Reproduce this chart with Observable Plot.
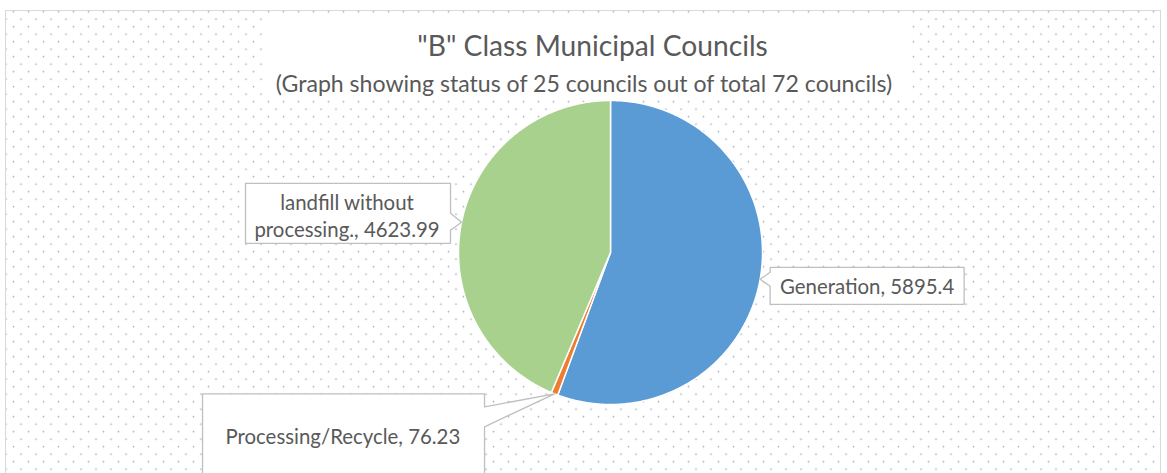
<!DOCTYPE html>
<html>
<head>
<meta charset="utf-8">
<script src="https://cdn.jsdelivr.net/npm/d3@7"></script>
<script src="https://cdn.jsdelivr.net/npm/@observablehq/plot@0.6"></script>
<style>
  html, body { margin: 0; padding: 0; background: #fff; }
  #page { position: relative; width: 1167px; height: 473px; overflow: hidden; font-family: Lato, "Open Sans", sans-serif; }
  #frame {
    position: absolute; left: 5px; top: 10px; width: 1156px; height: 480px;
    border: 1px solid #d9d9d9; box-sizing: border-box;
    background-image:
      radial-gradient(circle, #a9aec6 0, #a9aec6 0.6px, rgba(255,255,255,0) 1.2px),
      radial-gradient(circle, #a9aec6 0, #a9aec6 0.6px, rgba(255,255,255,0) 1.2px);
    background-size: 15px 15px, 15px 15px;
    background-position: 0px -6.8px, 7.5px 0.7px;
  }
  #titlebox { position: absolute; left: 265px; top: 17px; width: 645px; height: 82px; background: #fff; }
  .t { position: absolute; white-space: nowrap; color: #595959; line-height: 1; text-align: center; }
  #chart { position: absolute; left: 0; top: 0; }
</style>
</head>
<body>
<div id="page">
  <div id="frame"></div>
  <div id="titlebox"></div>
  <div class="t" id="title" style="font-size:28.2px; left:292.5px; width:600px; top:31px;">"B" Class Municipal Councils</div>
  <div class="t" id="subtitle" style="font-size:23.1px; left:234px; width:700px; top:71.5px;">(Graph showing status of 25 councils out of total 72 councils)</div>
  <div id="chart"></div>
</div>
<script>
// ---- data ----
const categories = ["Generation", "Processing/Recycle", "landfill without processing."];
const values = [5895.4, 76.23, 4623.99];
const labelTexts = ["Generation, 5895.4", "Processing/Recycle, 76.23", "landfill without\nprocessing., 4623.99"];
const colors = ["#5b9bd5", "#ed7d31", "#a9d18e"];

// ---- layout (pixels) ----
const W = 1167, H = 473;
const CX = 610, CY = 252, R = 152;
// callout shapes as pixel offsets from the pointer tip (which sits on the slice mid-angle at the rim)
const callouts = [
  { shape: [[10,-12],[204,-12],[204,25],[10,25],[10,7],[0,0],[10,-7]], text: [107, 6.5] },
  { shape: [[-352,0],[-70,0],[-70,13],[0,0],[-70,33],[-70,85],[-352,85]], text: [-211.7, 42] },
  { shape: [[-216,-39],[-11,-39],[-11,-9],[0,0],[-11,8],[-11,21],[-216,21]], text: [-114.5, -7.5] }
];

const table = categories.map((c, i) => ({ name: c, value: values[i], label: labelTexts[i] }));
const arcs = d3.pie().sort(null).value(d => d.value)(table);

// slice polygons in radius units
const slicePts = [];
arcs.forEach(a => {
  const name = a.data.name;
  slicePts.push({ name, x: 0, y: 0 });
  const n = Math.max(2, Math.ceil((a.endAngle - a.startAngle) / (Math.PI / 360)));
  for (let k = 0; k <= n; k++) {
    const t = a.startAngle + (a.endAngle - a.startAngle) * k / n;
    slicePts.push({ name, x: Math.sin(t), y: Math.cos(t) });
  }
});

// callouts
const calloutPts = [];
const labelPts = [];
arcs.forEach((a, i) => {
  const mid = (a.startAngle + a.endAngle) / 2;
  const tx = Math.sin(mid), ty = Math.cos(mid);
  const c = callouts[i];
  c.shape.forEach(([dx, dy]) => calloutPts.push({ id: i, x: tx + dx / R, y: ty - dy / R }));
  labelPts.push({ label: a.data.label, x: tx + c.text[0] / R, y: ty - c.text[1] / R });
});

const chart = Plot.plot({
  width: W, height: H,
  margin: 0,
  style: { background: "transparent", overflow: "visible" },
  x: { domain: [-1, 1], range: [CX - R, CX + R], axis: null },
  y: { domain: [-1, 1], range: [CY + R, CY - R], axis: null },
  color: { domain: categories, range: colors },
  marks: [
    Plot.line(slicePts, { x: "x", y: "y", z: "name", fill: "name", stroke: "white", strokeWidth: 1.5, curve: "linear-closed", strokeLinejoin: "round" }),
    Plot.line(calloutPts, { x: "x", y: "y", z: "id", fill: "white", stroke: "#bfbfbf", strokeWidth: 1.3, curve: "linear-closed" }),
    Plot.text(labelPts, { x: "x", y: "y", text: "label", fontSize: 20.4, fill: "#595959", fontFamily: "Lato, 'Open Sans', sans-serif", lineAnchor: "middle", textAnchor: "middle", lineHeight: 1.31 })
  ]
});
document.getElementById("chart").appendChild(chart);
</script>
</body>
</html>
